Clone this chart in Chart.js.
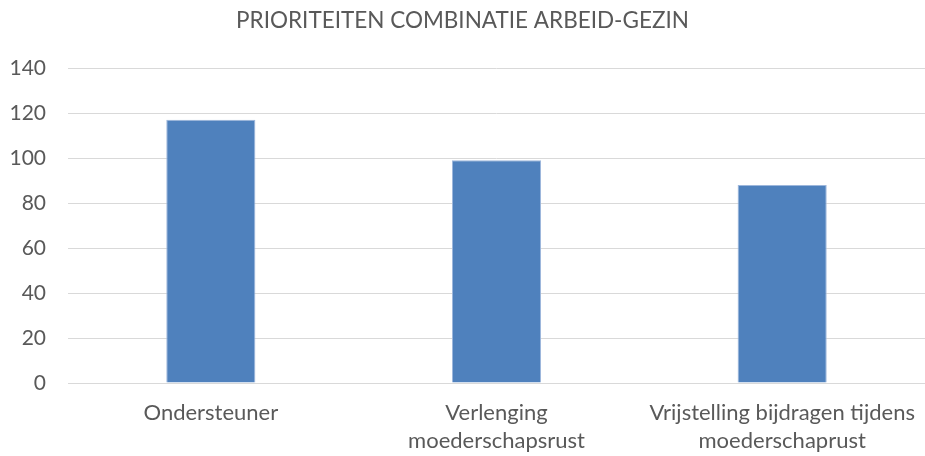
<!DOCTYPE html>
<html>
<head>
<meta charset="utf-8">
<script src="https://cdn.jsdelivr.net/npm/chart.js@4"></script>
<style>
  html, body { margin: 0; padding: 0; background: #fff; }
  #wrap { width: 925px; height: 456px; position: relative; }
</style>
</head>
<body>
<div id="wrap"><canvas id="c"></canvas></div>
<script>
const chartTitle = 'PRIORITEITEN COMBINATIE ARBEID-GEZIN';
const categories = [
  ['Ondersteuner'],
  ['Verlenging', 'moederschapsrust'],
  ['Vrijstelling bijdragen tijdens', 'moederschaprust']
];
const values = [117, 99, 88];
const yMin = 0, yMax = 140, yStep = 20;

const FONT = 'Lato, "Open Sans", sans-serif';
const TEXT = '#595959';

new Chart(document.getElementById('c'), {
  type: 'bar',
  data: {
    labels: categories,
    datasets: [{
      data: values,
      backgroundColor: '#4F81BD',
      borderColor: '#9DB7DC',
      borderWidth: 1,
      categoryPercentage: 1,
      barPercentage: 0.312
    }]
  },
  options: {
    responsive: true,
    maintainAspectRatio: false,
    animation: false,
    layout: { padding: { left: 0, right: 0, top: 7, bottom: 0 } },
    plugins: {
      legend: { display: false },
      tooltip: { enabled: false },
      title: {
        display: true,
        text: chartTitle,
        color: TEXT,
        font: { family: FONT, size: 22.5, weight: 'normal', lineHeight: 1.2 },
        padding: { top: 0, bottom: 34 }
      }
    },
    scales: {
      x: {
        afterFit: (s) => { s.height = 73; s.paddingLeft = 0; s.paddingRight = 0; },
        grid: { display: false, drawTicks: false },
        border: { display: true, color: '#d9d9d9', width: 1 },
        ticks: {
          color: TEXT,
          font: { family: FONT, size: 22, lineHeight: 1.27 },
          padding: 16,
          maxRotation: 0,
          autoSkip: false
        }
      },
      y: {
        min: yMin, max: yMax,
        afterFit: (s) => { s.width = 68; },
        grid: { color: '#d9d9d9', lineWidth: 1, drawTicks: false },
        border: { display: false },
        ticks: {
          stepSize: yStep,
          color: TEXT,
          font: { family: FONT, size: 21 },
          padding: 22
        }
      }
    }
  }
});
</script>
</body>
</html>
